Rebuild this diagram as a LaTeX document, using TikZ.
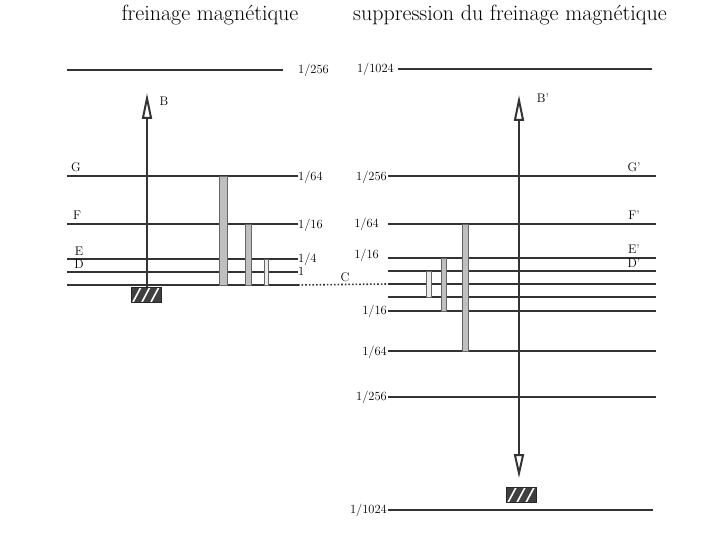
\documentclass[tikz,border=0pt]{standalone}
\usepackage{tikz}
\usetikzlibrary{arrows.meta,positioning}

\tikzset{
  level/.style={line width=2.4pt, black!80},
  lab/.style={font=\fontsize{12.5}{14}\selectfont, inner sep=1pt},
  ttl/.style={font=\fontsize{22}{26}\selectfont},
  transbar/.style={draw=black!60, fill=black!25, line width=0.8pt},
  thinbar/.style={draw=black!60, fill=black!8, line width=0.8pt},
  hatchbox/.style={draw=black!85, fill=black!75, line width=0.8pt,
    minimum width=30pt, minimum height=15pt, inner sep=0pt,
    path picture={
      \draw[white, line width=1.6pt] ([xshift=2pt]path picture bounding box.south west) -- ++(8pt,15pt);
      \draw[white, line width=1.6pt] ([xshift=11pt]path picture bounding box.south west) -- ++(8pt,15pt);
      \draw[white, line width=1.6pt] ([xshift=20pt]path picture bounding box.south west) -- ++(8pt,15pt);
    }},
  openhead/.style={line width=2pt, black!80}
}

\begin{document}
\begin{tikzpicture}[x=1pt,y=-1pt]
\useasboundingbox (0,0) rectangle (710,548);

% Titles
\node[ttl] (t1) at (210,15) {freinage magnétique};
\node[ttl] (t2) at (510,15) {suppression du freinage magnétique};

% Left levels
\coordinate (l256a) at (67,70);  \coordinate (l256b) at (283,70);
\coordinate (Ga) at (67,176);    \coordinate (Gb) at (298,176);
\coordinate (Fa) at (67,224);    \coordinate (Fb) at (298,224);
\coordinate (Ea) at (67,259);    \coordinate (Eb) at (298,259);
\coordinate (Da) at (67,272);    \coordinate (Db) at (298,272);
\coordinate (Ca) at (67,285);    \coordinate (Cb) at (298,285);

\draw[level] (l256a) -- (l256b);
\draw[level] (Ga) -- (Gb);
\draw[level] (Fa) -- (Fb);
\draw[level] (Ea) -- (Eb);
\draw[level] (Da) -- (Db);
\draw[level] (Ca) -- (Cb);

\node[lab, anchor=west] (q256) at (297,70) {1/256};
\node[lab, anchor=west] (q64) at (297,177) {1/64};
\node[lab, anchor=west] (q16) at (297,225) {1/16};
\node[lab, anchor=west] (q4) at (297,259) {1/4};
\node[lab, anchor=west] (q1) at (297,271) {1};

\node[lab] (G) at (76,167) {G};
\node[lab] (F) at (77,215) {F};
\node[lab] (E) at (79,251) {E};
\node[lab] (D) at (79,264) {D};

% Left transitions
\draw[transbar] (219,176) rectangle (227,285);
\draw[transbar] (245,224) rectangle (251,285);
\draw[thinbar] (264,259) rectangle (268,285);

% Left box and arrow
\node[hatchbox] (box1) at (146,294.5) {};
\coordinate (Btip) at (147,93);
\draw[openhead, -{Triangle[open,length=26pt,width=10pt]}] (box1.north) ++(1,0) -- (Btip);
\node[lab] (B) at (164,101) {B};

% Right levels
\coordinate (r1024a) at (398,69);  \coordinate (r1024b) at (652,69);
\coordinate (Gpa) at (388,176);    \coordinate (Gpb) at (656,176);
\coordinate (Fpa) at (388,224);    \coordinate (Fpb) at (656,224);
\coordinate (Epa) at (388,258);    \coordinate (Epb) at (656,258);
\coordinate (Dpa) at (388,271);    \coordinate (Dpb) at (656,271);
\coordinate (Cpa) at (388,284);    \coordinate (Cpb) at (656,284);
\coordinate (Hpa) at (388,297);    \coordinate (Hpb) at (656,297);
\coordinate (Ipa) at (388,311);    \coordinate (Ipb) at (656,311);
\coordinate (Jpa) at (388,351);    \coordinate (Jpb) at (656,351);
\coordinate (Kpa) at (388,397);    \coordinate (Kpb) at (656,397);
\coordinate (Lpa) at (388,510);    \coordinate (Lpb) at (653,510);

\draw[level] (r1024a) -- (r1024b);
\draw[level] (Gpa) -- (Gpb);
\draw[level] (Fpa) -- (Fpb);
\draw[level] (Epa) -- (Epb);
\draw[level] (Dpa) -- (Dpb);
\draw[level] (Cpa) -- (Cpb);
\draw[level] (Hpa) -- (Hpb);
\draw[level] (Ipa) -- (Ipb);
\draw[level] (Jpa) -- (Jpb);
\draw[level] (Kpa) -- (Kpb);
\draw[level] (Lpa) -- (Lpb);

\node[lab, anchor=east] (p1024) at (395,69) {1/1024};
\node[lab, anchor=east] (p256) at (388,177) {1/256};
\node[lab, anchor=east] (p64) at (380,224) {1/64};
\node[lab, anchor=east] (p16) at (380,255) {1/16};
\node[lab, anchor=east] (m16) at (388,311) {1/16};
\node[lab, anchor=east] (m64) at (388,352) {1/64};
\node[lab, anchor=east] (m256) at (388,397) {1/256};
\node[lab, anchor=east] (m1024) at (388,510) {1/1024};

\node[lab] (Gp) at (634,167) {G'};
\node[lab] (Fp) at (634,215) {F'};
\node[lab] (Ep) at (634,249) {E'};
\node[lab] (Dp) at (634,263) {D'};

% Right transitions
\draw[transbar] (462,224) rectangle (468,351);
\draw[transbar] (441,258) rectangle (446,311);
\draw[thinbar] (426,271) rectangle (431,297);

% Link between the two C levels
\draw[line width=1.6pt, black!80, dotted] (Cb) -- (Cpa);
\node[lab] (C) at (345,277) {C};

% Right box and arrow
\node[hatchbox] (box2) at (521,495) {};
\coordinate (Bptip) at (519,95);
\draw[openhead, {Triangle[open,length=26pt,width=10pt]}-{Triangle[open,length=24pt,width=10pt]}, shorten >=9pt] (Bptip) -- (box2.north -| Bptip);
\node[lab] (Bp) at (543,98) {B'};
\end{tikzpicture}
\end{document}
